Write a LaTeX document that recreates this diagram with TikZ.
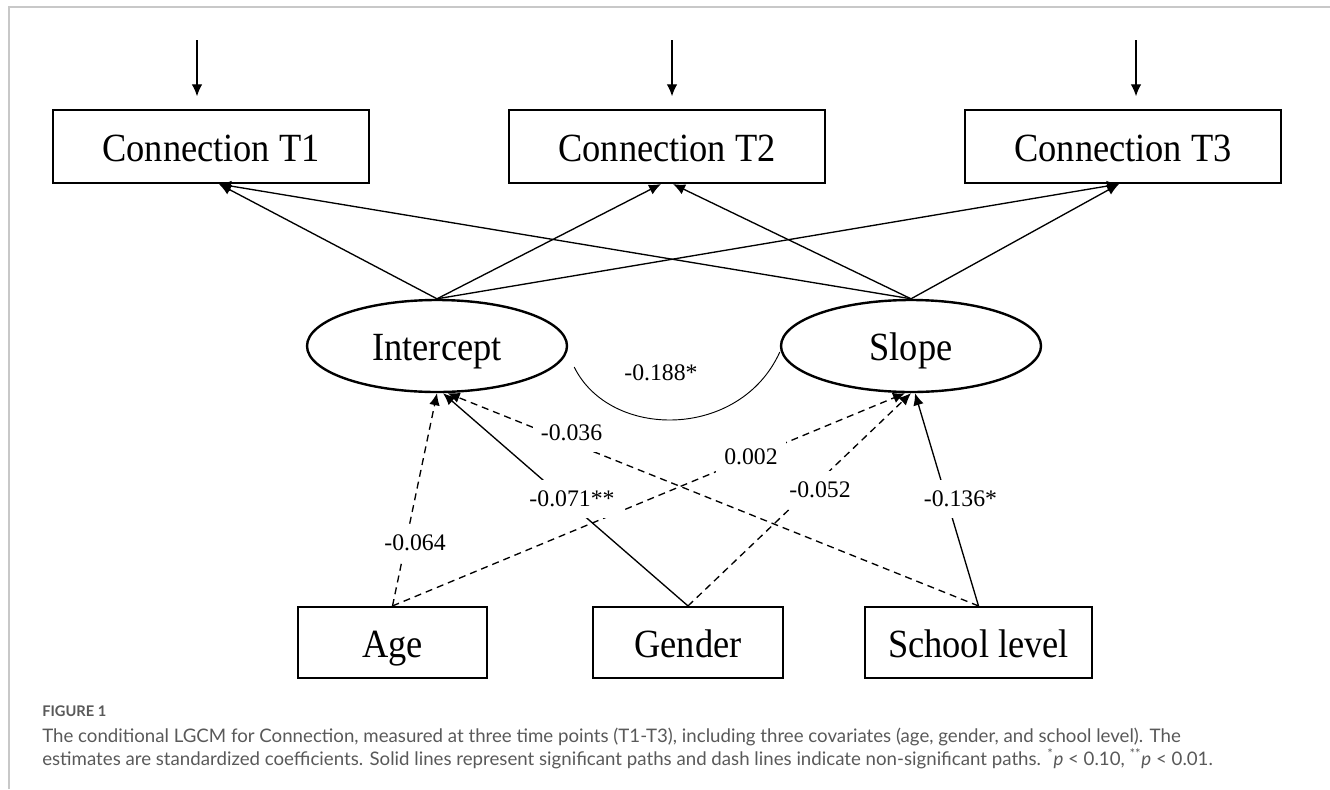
\documentclass[tikz,border=0pt]{standalone}
\usepackage{fontspec}
\setmainfont{Liberation Serif}
\newfontfamily\boxfont{Liberation Serif}[FakeStretch=0.91]
\newfontfamily\capfont{Lato}
\usetikzlibrary{shapes.geometric,arrows.meta}
\definecolor{capgray}{HTML}{595959}
\definecolor{framegray}{HTML}{C8C8C8}
\tikzset{
  varbox/.style={draw, line width=1.6pt, rectangle, inner sep=0pt, text height=27pt, text depth=4pt, font=\boxfont\fontsize{30}{36}\selectfont},
  latent/.style={draw, line width=1.8pt, ellipse, inner sep=0pt, minimum width=195pt, minimum height=69pt, text height=27pt, text depth=6pt, font=\boxfont\fontsize{30}{36}\selectfont},
  arr/.style={line width=1pt, -{Latex[length=9pt,width=8pt]}},
  dashpath/.style={arr, dash pattern=on 5.25pt off 3.75pt},
  coef/.style={fill=white, inner xsep=6pt, inner ysep=8pt, font=\fontsize{17.8}{20}\selectfont},
}
\begin{document}
\begin{tikzpicture}[x=0.75pt,y=-0.75pt]
\useasboundingbox (0,0) rectangle (1330,789);
% frame
\draw[framegray, line width=1.2pt] (9,789) -- (9,7) -- (1330,7);

% observed indicators
\node[varbox, minimum width=237pt, minimum height=54.75pt] (T1) at (211,146.5) {Connection T1};
\node[varbox, minimum width=237pt, minimum height=54.75pt] (T2) at (667,146.5) {Connection T2};
\node[varbox, minimum width=237pt, minimum height=54.75pt] (T3) at (1123,146.5) {Connection T3};

% error arrows
\coordinate (e1) at (197,40);
\coordinate (e2) at (672,40);
\coordinate (e3) at (1136,40);
\draw[arr, shorten >=9.5pt] (e1) -- (e1 |- T1.north);
\draw[arr, shorten >=9.5pt] (e2) -- (e2 |- T2.north);
\draw[arr, shorten >=9.5pt] (e3) -- (e3 |- T3.north);

% latent factors
\node[latent] (I) at (437,346) {Intercept};
\node[latent] (S) at (911,346) {Slope};

% loadings
\draw[arr] (I.north) -- ([xshift=6pt]T1.south);
\draw[arr] (I.north) -- ([xshift=-4.5pt]T2.south);
\draw[arr] (I.north) -- ([xshift=-3pt]T3.south);
\draw[arr] (S.north) -- ([xshift=6pt]T1.south);
\draw[arr] (S.north) -- ([xshift=4.5pt]T2.south);
\draw[arr] (S.north) -- ([xshift=-3pt]T3.south);

% covariance
\draw[line width=0.7pt] ([xshift=4.5pt,yshift=-15.75pt]I.east) .. controls (610,440) and (740,440) .. ([yshift=-4.5pt]S.west);
\node[font=\fontsize{17.8}{20}\selectfont] (cov) at (661,373) {-0.188*};

% covariates
\node[varbox, minimum width=141.75pt, minimum height=53.25pt] (Age) at (392.5,642.5) {Age};
\node[varbox, minimum width=142.5pt, minimum height=53.25pt] (Gen) at (688,642.5) {Gender};
\node[varbox, minimum width=170.25pt, minimum height=53.25pt] (Sch) at (978.5,642.5) {School level};

% regression paths
\draw[dashpath] (Age.north) -- (I.south);
\draw[arr] (Gen.north) -- ([xshift=4.5pt]I.south);
\draw[dashpath] (Sch.north) -- ([xshift=8pt]I.south);
\draw[dashpath] (Age.north) -- ([xshift=-4.5pt]S.south);
\draw[dashpath] (Gen.north) -- (S.south);
\draw[arr] (Sch.north) -- ([xshift=3pt]S.south);

% coefficient labels
\node[coef] (l1) at (415,543) {-0.064};
\node[coef] (l2) at (572,499) {-0.071**};
\node[coef] (l3) at (571.5,433) {-0.036};
\node[coef] (l4) at (751,457) {0.002};
\node[coef] (l5) at (820,490) {-0.052};
\node[coef] (l6) at (960.5,499) {-0.136*};

% caption
\node[anchor=base west, inner sep=0pt, text=capgray, font=\capfont\bfseries\fontsize{11}{13}\selectfont] (fig) at (42,716) {FIGURE 1};
\node[anchor=base west, inner sep=0pt, text=capgray, font=\capfont\fontsize{14}{17}\selectfont] (cap1) at (42,742) {The conditional LGCM for Connection, measured at three time points (T1-T3), including three covariates (age, gender, and school level). The};
\node[anchor=base west, inner sep=0pt, text=capgray, font=\capfont\fontsize{14}{17}\selectfont] (cap2) at (42,765) {estimates are standardized coefficients. Solid lines represent significant paths and dash lines indicate non-significant paths. \textsuperscript{*}\textit{p} < 0.10, \textsuperscript{**}\textit{p} < 0.01.};
\end{tikzpicture}
\end{document}
